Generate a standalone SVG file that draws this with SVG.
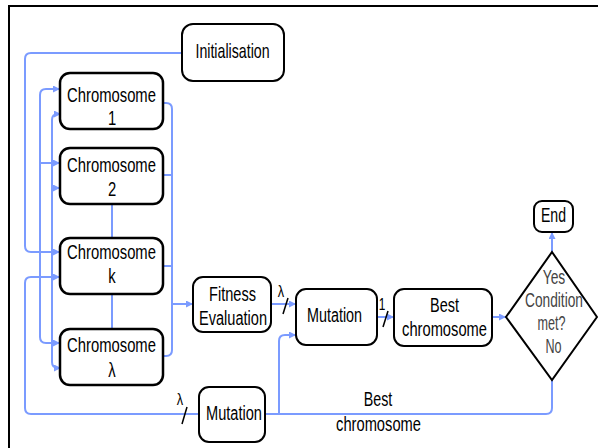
<svg xmlns="http://www.w3.org/2000/svg" width="598" height="448" viewBox="0 0 598 448">
<defs>
<marker id="ah" viewBox="0 0 10 10" refX="10" refY="5" markerWidth="7" markerHeight="7" markerUnits="userSpaceOnUse" orient="auto"><path d="M0,0 L10,5 L0,10 z" fill="#7b9bff"/></marker>
</defs>
<style>
.box{fill:#fff;stroke:#000;stroke-width:2}
.cbox{fill:#fff;stroke:#000;stroke-width:2.5}
.t{font-family:"Liberation Sans",Arial,sans-serif;font-size:21px;fill:#000;text-anchor:middle}
.d{fill:#444}
.l{font-size:17px}
.c{fill:none;stroke:#7b9bff;stroke-width:2}
.a{marker-end:url(#ah)}
.s{stroke:#000;stroke-width:1.5}
</style>
<rect x="0" y="0" width="598" height="448" fill="#fff"/>
<rect x="9" y="6" width="600" height="460" fill="none" stroke="#000" stroke-width="2"/>
<g id="connectors">
<path class="c a" d="M182,53 H31 Q25,53 25,59 V246 Q25,252 31,252 H60"/>
<path class="c a" d="M40,252 V95 Q40,89 46,89 H60"/>
<path class="c a" d="M40,252 V337 Q40,343 46,343 H60"/>
<path class="c a" d="M40,163 H60"/>
<path class="c a" d="M52,277 V120 Q52,114 58,114 H61"/>
<path class="c a" d="M52,277 V362 Q52,368 58,368 H61"/>
<path class="c a" d="M52,188 H60"/>
<path class="c a" d="M199,414 H31 Q25,414 25,408 V283 Q25,277 31,277 H60"/>
<path class="c" d="M163,103 H166 Q172,103 172,109 V350 Q172,356 166,356 H163"/>
<path class="c" d="M163,175 H172 M163,266 H172"/>
<path class="c a" d="M172,304 H193"/>
<path class="c" d="M112,204 V238 M112,294 V329"/>
<path class="c a" d="M271,304 H296"/>
<path class="c a" d="M377,317 H394"/>
<path class="c a" d="M492,317 H506"/>
<path class="c a" d="M552,252 V232"/>
<path class="c" d="M552,380 V408 Q552,414 546,414 H265"/>
<path class="c a" d="M279,414 V341 Q279,335 285,335 H296"/>
<line class="s" x1="288" y1="298" x2="283" y2="314"/>
<text class="t l" transform="translate(281,297) scale(0.75,1)">λ</text>
<line class="s" x1="388" y1="311" x2="383" y2="327"/>
<text class="t l" transform="translate(382,310) scale(0.7,1)">1</text>
<line class="s" x1="187" y1="407" x2="182" y2="424"/>
<text class="t l" transform="translate(180,405) scale(0.75,1)">λ</text>
<text class="t" transform="translate(378,406) scale(0.68,1)">Best</text>
<text class="t" transform="translate(378.5,431) scale(0.7,1)">chromosome</text>
</g>
<g id="initialisation">
<rect class="box" x="182" y="24" width="102" height="57" rx="11"/>
<text class="t" transform="translate(232.5,58) scale(0.676,1)">Initialisation</text>
</g>
<g id="chromosome1">
<rect class="cbox" x="60" y="73" width="103" height="56" rx="10"/>
<text class="t" transform="translate(111.5,102) scale(0.706,1)">Chromosome</text>
<text class="t" transform="translate(112,125) scale(0.706,1)">1</text>
</g>
<g id="chromosome2">
<rect class="cbox" x="60" y="148" width="103" height="56" rx="10"/>
<text class="t" transform="translate(111.5,172) scale(0.706,1)">Chromosome</text>
<text class="t" transform="translate(112,196) scale(0.706,1)">2</text>
</g>
<g id="chromosomek">
<rect class="cbox" x="60" y="238" width="103" height="56" rx="10"/>
<text class="t" transform="translate(111.5,259) scale(0.706,1)">Chromosome</text>
<text class="t" transform="translate(112,283) scale(0.706,1)">k</text>
</g>
<g id="chromosomelambda">
<rect class="cbox" x="60" y="329" width="103" height="56" rx="10"/>
<text class="t" transform="translate(111.5,352) scale(0.706,1)">Chromosome</text>
<text class="t" transform="translate(112,377) scale(0.706,1)">λ</text>
</g>
<g id="fitness">
<rect class="box" x="193" y="277" width="78" height="55" rx="10"/>
<text class="t" transform="translate(232.5,301) scale(0.694,1)">Fitness</text>
<text class="t" transform="translate(233,325) scale(0.694,1)">Evaluation</text>
</g>
<g id="mutation1">
<rect class="box" x="296" y="289" width="81" height="56" rx="10"/>
<text class="t" transform="translate(334.5,322) scale(0.685,1)">Mutation</text>
</g>
<g id="best">
<rect class="box" x="394" y="289" width="98" height="57" rx="10"/>
<text class="t" transform="translate(444.5,312) scale(0.69,1)">Best</text>
<text class="t" transform="translate(444.5,336) scale(0.70,1)">chromosome</text>
</g>
<g id="condition">
<polygon points="552,252 597,317 552,380 506,317" fill="#fff" stroke="#000" stroke-width="2"/>
<text class="t d" transform="translate(554,284) scale(0.66,1)">Yes</text>
<text class="t d" transform="translate(554,307) scale(0.654,1)">Condition</text>
<text class="t d" transform="translate(551.5,330) scale(0.6,1)">met?</text>
<text class="t d" transform="translate(553.5,353) scale(0.6,1)">No</text>
</g>
<g id="end">
<rect class="box" x="534" y="201" width="39" height="31" rx="8"/>
<text class="t" transform="translate(553.5,222) scale(0.67,1)">End</text>
</g>
<g id="mutation2">
<rect class="box" x="199" y="387" width="66" height="55" rx="10"/>
<text class="t" transform="translate(234,420) scale(0.695,1)">Mutation</text>
</g>
</svg>
